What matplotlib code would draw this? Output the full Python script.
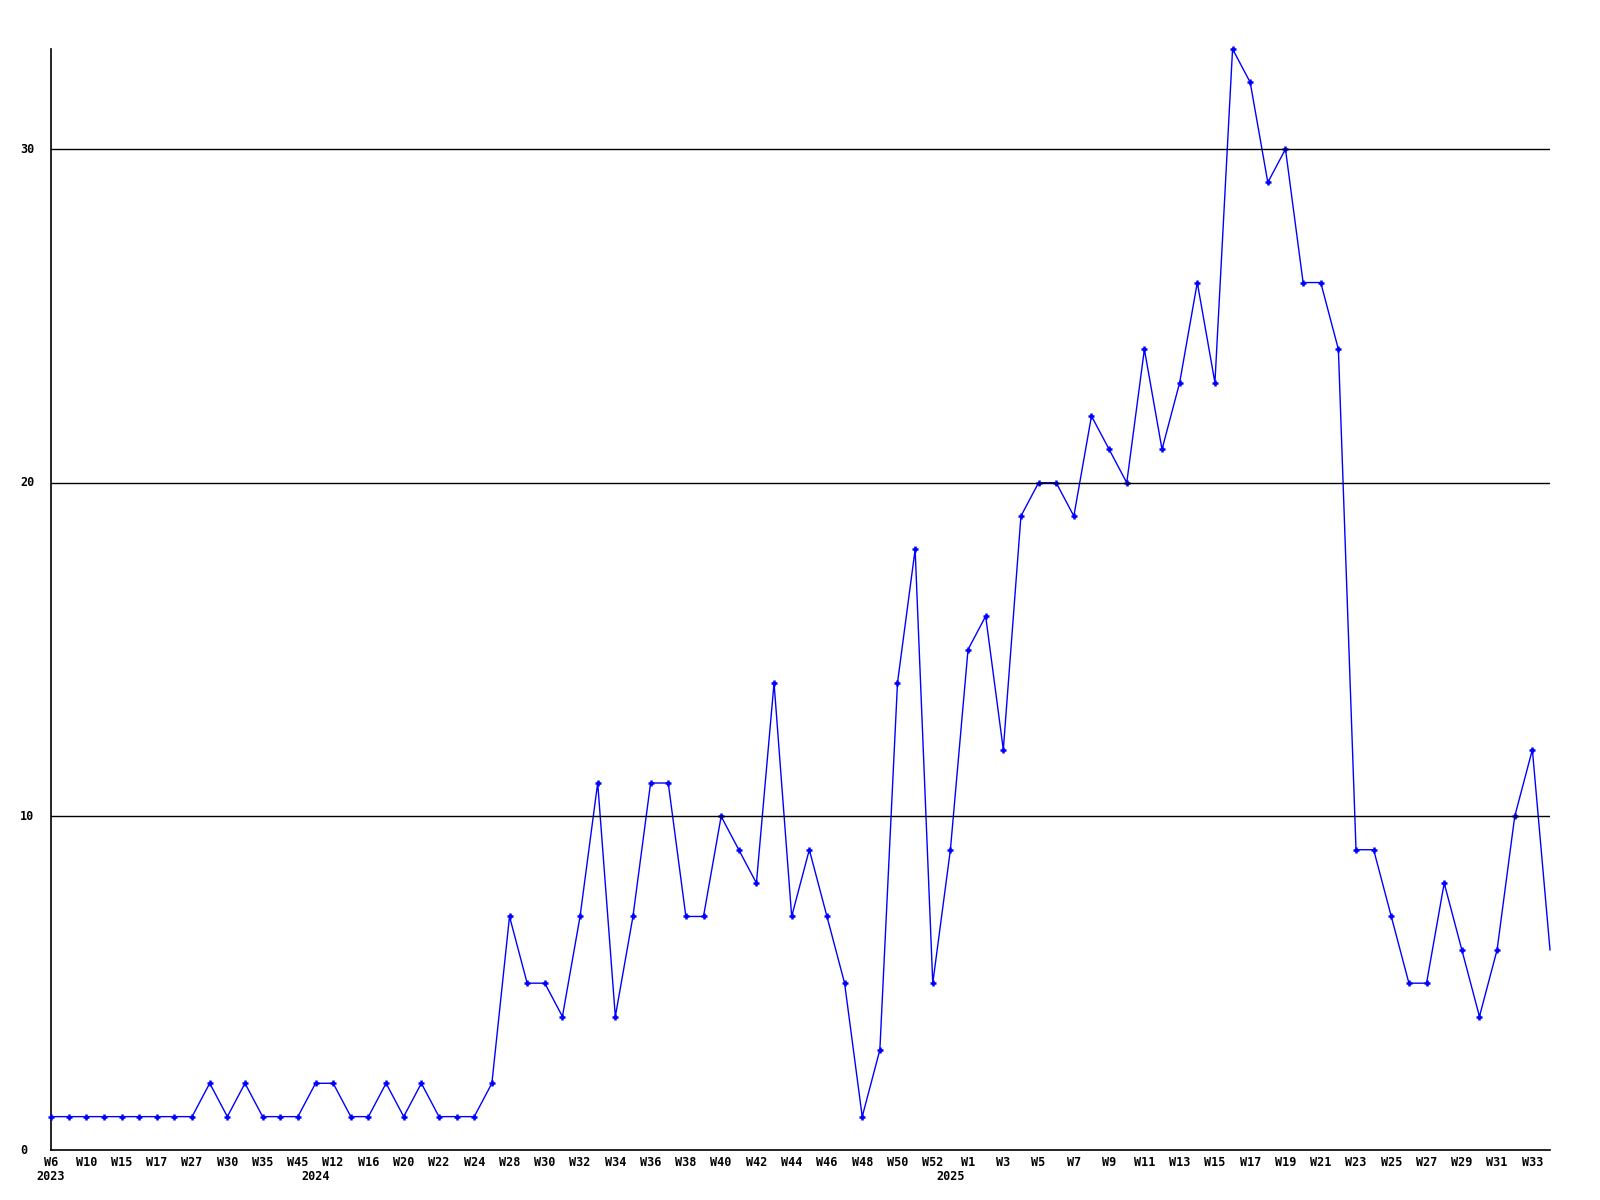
import numpy as np
import matplotlib
matplotlib.use("Agg")
import matplotlib.pyplot as plt

# weekly counts, one value per week shown on the chart
counts = [1, 1, 1, 1, 1, 1, 1, 1, 1, 2, 1, 2, 1, 1, 1, 2, 2, 1, 1, 2,
          1, 2, 1, 1, 1, 2, 7, 5, 5, 4, 7, 11, 4, 7, 11, 11, 7, 7, 10, 9,
          8, 14, 7, 9, 7, 5, 1, 3, 14, 18, 5, 9, 15, 16, 12, 19, 20, 20, 19, 22,
          21, 20, 24, 21, 23, 26, 23, 33, 32, 29, 30, 26, 26, 24, 9, 9, 7, 5, 5, 8,
          6, 4, 6, 10, 12, 6]

# every second week is labelled
week_labels = ["W6", "W10", "W15", "W17", "W27", "W30", "W35", "W45", "W12", "W16",
               "W20", "W22", "W24", "W28", "W30", "W32", "W34", "W36", "W38", "W40",
               "W42", "W44", "W46", "W48", "W50", "W52", "W1", "W3", "W5", "W7",
               "W9", "W11", "W13", "W15", "W17", "W19", "W21", "W23", "W25", "W27",
               "W29", "W31", "W33"]

# year captions and the index of the week where each year starts
years = ["2023", "2024", "2025"]
year_start = [0, 15, 51]

y_ticks = [0, 10, 20, 30]

font = {"family": "DejaVu Sans Mono", "weight": "bold", "size": 8.5}

x = np.arange(len(counts))

fig = plt.figure(figsize=(16, 12), dpi=100)
ax = fig.add_axes([51 / 1600, 1 - 1150 / 1200, 1499 / 1600, 1101 / 1200])

# grid lines sit on top of the data line
for v in y_ticks[1:]:
    ax.axhline(v, color="black", lw=1, zorder=4)

ax.plot(x, counts, color="#0000ff", lw=1, marker="+", markersize=4.5,
        markeredgewidth=1.8, markevery=slice(0, len(counts) - 1), zorder=3,
        clip_on=False)

ax.set_xlim(0, len(counts) - 1)
ax.set_ylim(0, max(counts))

for s in ["top", "right"]:
    ax.spines[s].set_visible(False)
for s in ["left", "bottom"]:
    ax.spines[s].set_linewidth(1.2)
    ax.spines[s].set_color("black")

ax.set_xticks(x[::2])
ax.set_xticklabels(week_labels, fontdict=font)
ax.tick_params(axis="x", length=0, pad=4)

ax.set_yticks([])
ytrans = ax.get_yaxis_transform()
for v in y_ticks:
    ax.text(-31 / 1499, v, str(v), transform=ytrans, ha="left", va="center",
            fontdict=font)

xtrans = ax.get_xaxis_transform()
for name, i in zip(years, year_start):
    ax.text(i, -26 / 1101, name, transform=xtrans, ha="center", va="center",
            fontdict=font)

fig.savefig("out.png", dpi=100, facecolor="white")
